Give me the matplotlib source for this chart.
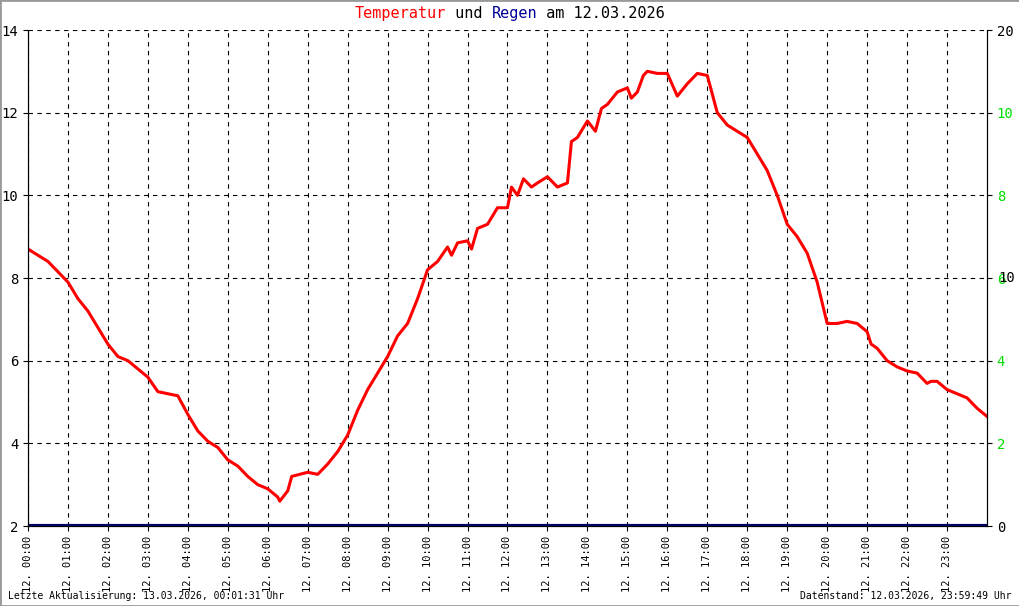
import matplotlib.pyplot as plt
from matplotlib.patches import Rectangle

# temperature readings (hour of day, degC)
hours = [0, 0.5, 1, 1.25, 1.5, 2, 2.25, 2.5, 3, 3.25, 3.5, 3.75, 4, 4.25, 4.5, 4.75,
         5, 5.25, 5.5, 5.75, 6, 6.25, 6.3, 6.5, 6.6, 7, 7.25, 7.5, 7.75, 8, 8.25, 8.5,
         8.75, 9, 9.25, 9.5, 9.75, 10, 10.25, 10.5, 10.6, 10.75, 11, 11.1, 11.25, 11.5,
         11.75, 12, 12.1, 12.25, 12.4, 12.6, 12.75, 13, 13.25, 13.5, 13.6, 13.75, 14,
         14.2, 14.35, 14.5, 14.75, 15, 15.1, 15.25, 15.4, 15.5, 15.75, 16, 16.25, 16.5,
         16.75, 17, 17.25, 17.5, 17.75, 18, 18.25, 18.5, 18.75, 19, 19.25, 19.5, 19.75,
         20, 20.25, 20.5, 20.75, 21, 21.1, 21.25, 21.5, 21.75, 22, 22.25, 22.5, 22.6,
         22.75, 23, 23.25, 23.5, 23.75, 24]
temp = [8.7, 8.4, 7.9, 7.5, 7.2, 6.4, 6.1, 6.0, 5.6, 5.25, 5.2, 5.15, 4.7, 4.3, 4.05, 3.9,
        3.6, 3.45, 3.2, 3.0, 2.9, 2.7, 2.6, 2.85, 3.2, 3.3, 3.25, 3.5, 3.8, 4.2, 4.8, 5.3,
        5.7, 6.1, 6.6, 6.9, 7.5, 8.2, 8.4, 8.75, 8.55, 8.85, 8.9, 8.7, 9.2, 9.3,
        9.7, 9.7, 10.2, 10.0, 10.4, 10.2, 10.3, 10.45, 10.2, 10.3, 11.3, 11.4, 11.8,
        11.55, 12.1, 12.2, 12.5, 12.6, 12.35, 12.5, 12.9, 13.0, 12.95, 12.95, 12.4, 12.7,
        12.95, 12.9, 12.0, 11.7, 11.55, 11.4, 11.0, 10.6, 10.0, 9.3, 9.0, 8.6, 7.9,
        6.9, 6.9, 6.95, 6.9, 6.7, 6.4, 6.3, 6.0, 5.85, 5.75, 5.7, 5.45, 5.5,
        5.5, 5.3, 5.2, 5.1, 4.85, 4.65]

left_ticks = [2, 4, 6, 8, 10, 12, 14]
right_labels = ["0", "2", "4", "6", "8", "10", "20"]
right_colors = ["black", "#00dd00", "#00dd00", "#00dd00", "#00dd00", "#00dd00", "black"]
hour_labels = [f"12. {h:02d}:00" for h in range(24)]

plt.rcParams["font.family"] = ["DejaVu Sans Mono"]
fig = plt.figure(figsize=(10.2, 6.06), dpi=100)
fig.patches.append(Rectangle((0, 0), 1, 1, transform=fig.transFigure, fill=False,
                             edgecolor="#999999", linewidth=2))
ax = fig.add_axes([28 / 1020, 80 / 606, 959 / 1020, 496 / 606])
ax.plot(hours, temp, color="red", lw=2.2)
ax.axhline(2, color="#000066", lw=3, zorder=3)
ax.set_xlim(0, 24)
ax.set_ylim(2, 14)
ax.set_yticks(left_ticks)
ax.set_xticks(range(24))
ax.set_xticklabels(hour_labels, rotation=90, fontsize=7.5)
ax.tick_params(axis="y", labelsize=10)
ax.grid(True, color="black", linestyle=(0, (4, 4)), lw=0.8)
ax.spines["top"].set_visible(False)

ax2 = ax.twinx()
ax2.set_ylim(2, 14)
ax2.set_yticks(left_ticks)
ax2.set_yticklabels(right_labels, fontsize=10)
for lab, c in zip(ax2.get_yticklabels(), right_colors):
    lab.set_color(c)
ax2.spines["top"].set_visible(False)
# black "10" of the rain scale drawn over the green 6, as in the source graphic
ax2.text(987 / 1020 + 0.0, (8 - 2) / 12, "10", transform=ax2.transAxes, fontsize=10,
         va="center", ha="left", color="black", alpha=0)
fig.text(998 / 1020, (80 + 496 * 0.5) / 606, "10", fontsize=10, va="center",
         ha="left", color="black")

# coloured title pieces, placed side by side using measured widths
parts = [("Temperatur", "red"), (" und ", "black"), ("Regen", "#000099"),
         (" am 12.03.2026", "black")]
renderer = fig.canvas.get_renderer()
texts = [fig.text(0, 0.977, t.replace(" ", "\u00a0"), color=c, fontsize=11,
                  va="center", ha="left") for t, c in parts]
widths = [t.get_window_extent(renderer).width / 1020 for t in texts]
x0 = 0.5 - sum(widths) / 2
for t, w in zip(texts, widths):
    t.set_x(x0)
    x0 += w

fig.text(0.008, 0.011, "Letzte Aktualisierung: 13.03.2026, 00:01:31 Uhr", fontsize=7)
fig.text(0.992, 0.011, "Datenstand: 12.03.2026, 23:59:49 Uhr", fontsize=7, ha="right")
fig.savefig("out.png", dpi=100)
